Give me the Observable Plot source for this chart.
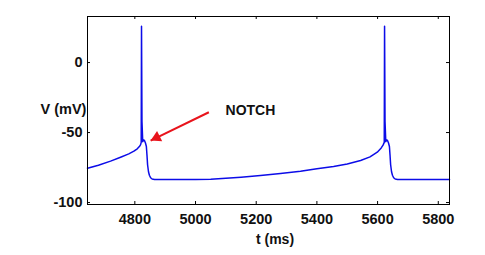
<!DOCTYPE html>
<html>
<head>
<meta charset="utf-8">
<script src="https://cdn.jsdelivr.net/npm/d3@7"></script>
<script src="https://cdn.jsdelivr.net/npm/@observablehq/plot@0.6"></script>
<style>
  html, body { margin: 0; padding: 0; background: white; }
</style>
</head>
<body>
<div id="chart"></div>
<script>
// Membrane potential trace (time in ms, voltage in mV)
const timeMs = [
  4644, 4680, 4720, 4753, 4780, 4797, 4808, 4815, 4819, 4821,
  4822, 4823.5, 4826, 4829, 4832, 4835, 4838, 4840, 4842, 4845,
  4848, 4852, 4857, 4865, 5000, 5050, 5100, 5150, 5214, 5280,
  5346, 5400, 5455, 5500, 5544, 5575, 5599, 5612, 5618, 5622,
  5623, 5624.5, 5627, 5630, 5633, 5636, 5639, 5641, 5643, 5646,
  5649, 5653, 5658, 5666, 5837
];
const voltageMv = [
  -75.5, -73.3, -70.4, -67.6, -65.2, -63.3, -61.6, -60.0, -58.6, -57.0,
  26.0, -42.0, -56.5, -55.3, -55.8, -57.5, -60.0, -66.0, -73.0, -78.0,
  -80.5, -82.3, -83.2, -83.6, -83.6, -83.3, -82.7, -81.9, -80.7, -79.2,
  -77.6, -75.9, -74.3, -72.4, -70.0, -67.4, -64.0, -61.0, -59.0, -57.0,
  26.0, -42.0, -56.5, -55.3, -55.8, -57.5, -60.0, -66.0, -73.0, -78.0,
  -80.5, -82.3, -83.2, -83.6, -83.6
];
const xTicks = [4800, 5000, 5200, 5400, 5600, 5800];
const yTicks = [-100, -50, 0];
const xLabel = "t (ms)";
const yLabel = "V (mV)";
const noteText = "NOTCH";
// annotation anchors (data units)
const noteT = [5181];
const noteV = [-34.3];
const arrowFromT = [5044];
const arrowFromV = [-35.5];
const arrowToT = [4852];
const arrowToV = [-55.7];

const trace = timeMs.map((t, i) => ({t, v: voltageMv[i]}));
const note = noteT.map((t, i) => ({t, v: noteV[i], text: noteText}));
const arrow = arrowFromT.map((t, i) => ({x1: t, y1: arrowFromV[i], x2: arrowToT[i], y2: arrowToV[i]}));

const blue = "#0c0ce8";
const red = "#e8141c";

const chart = Plot.plot({
  width: 485,
  height: 255,
  marginLeft: 87,
  marginRight: 36,
  marginTop: 16,
  marginBottom: 51,
  style: {
    fontFamily: "'Liberation Sans', Arial, sans-serif",
    fontSize: "14.5px",
    fontWeight: "bold",
    color: "#111",
    background: "white",
    overflow: "visible"
  },
  x: {domain: [4644, 5837], ticks: xTicks, tickSize: 0, tickPadding: 9, label: null, tickFormat: d => String(d)},
  y: {domain: [-101.4, 32.9], ticks: yTicks, tickSize: 0, tickPadding: 5, label: null, tickFormat: d => String(d)},
  marks: [
    Plot.line(trace, {x: "t", y: "v", stroke: blue, strokeWidth: 1.5, curve: "linear"}),
    Plot.frame({stroke: "black", strokeWidth: 1}),
    Plot.tickX(xTicks, {x: d => d, insetTop: 185, stroke: "black"}),
    Plot.tickX(xTicks, {x: d => d, insetBottom: 185, stroke: "black"}),
    Plot.tickY(yTicks, {y: d => d, insetRight: 359, stroke: "black"}),
    Plot.tickY(yTicks, {y: d => d, insetLeft: 359, stroke: "black"}),
    Plot.link(arrow, {x1: "x1", y1: "y1", x2: "x2", y2: "y2", stroke: red, strokeWidth: 2}),
    Plot.dot(arrow, {x: "x2", y: "y2", symbol: "triangle", r: 4.3, fill: red, stroke: "none", rotate: 244, dx: 6, dy: -2.9}),
    Plot.text(note, {x: "t", y: "v", text: "text", fontSize: 14, fontWeight: "bold", fill: "#111"}),
    Plot.text([yLabel], {frameAnchor: "left", lineAnchor: "middle", dx: -47, dy: -1, text: d => d, fontSize: 14.5, fontWeight: "bold", fill: "#111"}),
    Plot.text([xLabel], {frameAnchor: "bottom", lineAnchor: "middle", dx: 6.5, dy: 35.5, text: d => d, fontSize: 14, fontWeight: "bold", fill: "#111"})
  ]
});
document.getElementById("chart").appendChild(chart);
</script>
</body>
</html>
